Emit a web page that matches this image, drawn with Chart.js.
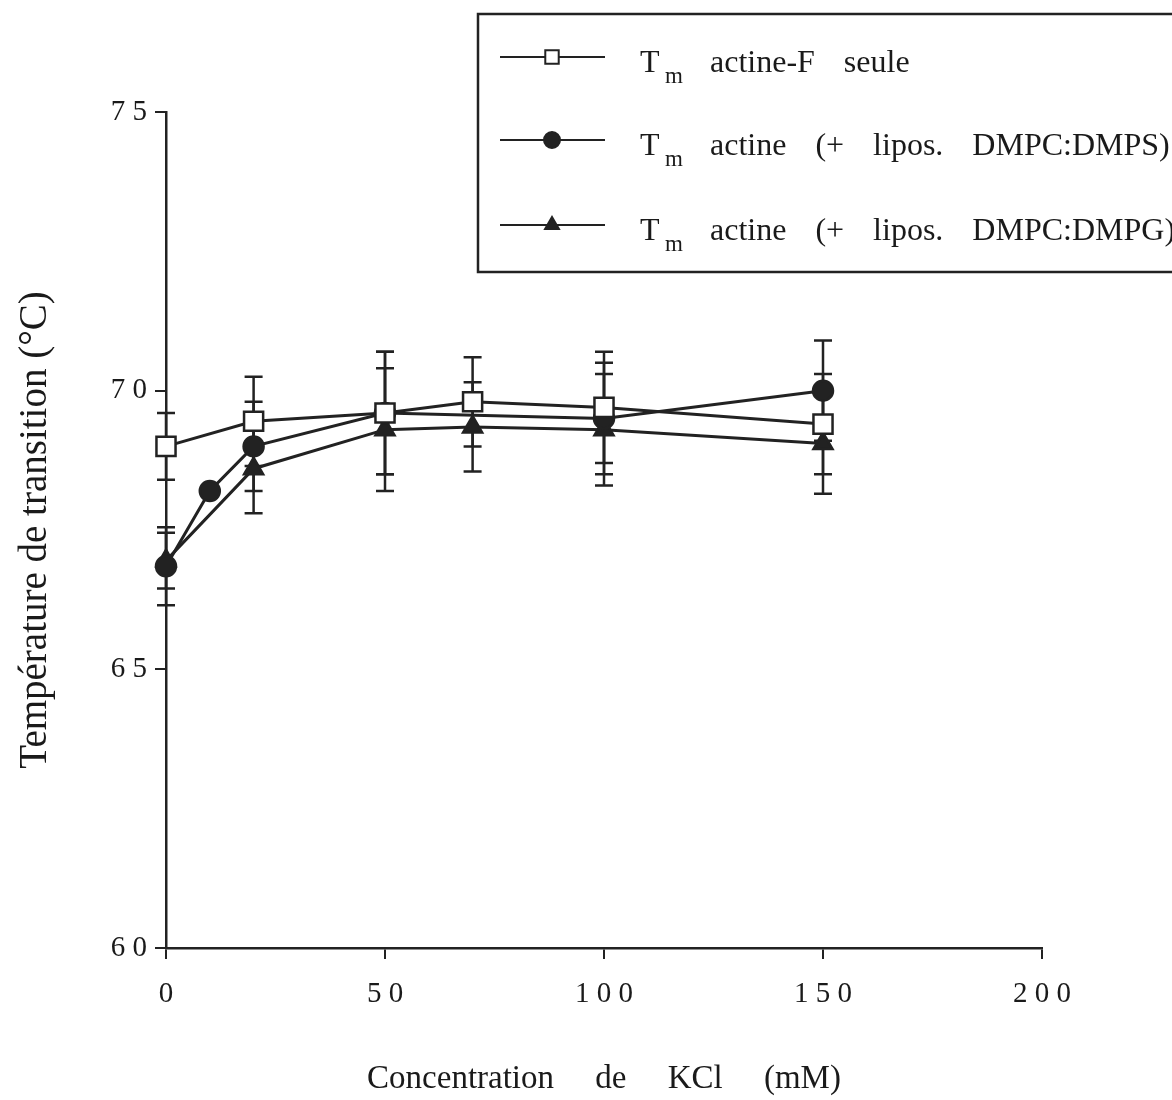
<!DOCTYPE html>
<html>
<head>
<meta charset="utf-8">
<script src="https://cdn.jsdelivr.net/npm/chart.js@4"></script>
<style>
  html, body { margin: 0; padding: 0; background: #fff; }
  #wrap { width: 1172px; height: 1100px; }
</style>
</head>
<body>
<div id="wrap"><canvas id="tm-chart" width="1172" height="1100"></canvas></div>
<script>
// KCl concentration (mM) and transition temperature Tm (°C) with SD
const kclSeule = [0, 20, 50, 70, 100, 150];
const tmSeule = [69.0, 69.45, 69.6, 69.8, 69.7, 69.4];
const sdSeule = [0.6, 0.8, 1.1, 0.8, 1.0, 0.9];

const kclDmps = [0, 10, 20, 50, 100, 150];
const tmDmps = [66.85, 68.2, 69.0, 69.6, 69.5, 70.0];
const sdDmps = [0.7, 0, 0.8, 1.1, 1.0, 0.9];

const kclDmpg = [0, 20, 50, 70, 100, 150];
const tmDmpg = [66.95, 68.6, 69.3, 69.35, 69.3, 69.05];
const sdDmpg = [0.5, 0.8, 1.1, 0.8, 1.0, 0.9];

const xTicks = [0, 50, 100, 150, 200];
const yTicks = [60, 65, 70, 75];

const seriesNames = [
  "actine-F seule",
  "actine (+ lipos. DMPC:DMPS)",
  "actine (+ lipos. DMPC:DMPG)",
];

const ink = "#222";
const serif = "'Liberation Serif', 'Times New Roman', serif";

function toPoints(xs, ys) {
  return xs.map((x, i) => ({ x: x, y: ys[i] }));
}

// digits drawn apart, like on the old plotter output
function spaced(value) {
  return String(value).split("").join(" ");
}

const errorBars = {
  id: "errorBars",
  beforeDatasetsDraw(chart) {
    const { ctx, scales } = chart;
    ctx.save();
    ctx.strokeStyle = ink;
    ctx.lineWidth = 2.5;
    chart.data.datasets.forEach((ds) => {
      ds.data.forEach((pt, i) => {
        const sd = ds.errors[i];
        if (!sd) return;
        const x = scales.x.getPixelForValue(pt.x);
        const top = scales.y.getPixelForValue(pt.y + sd);
        const bottom = scales.y.getPixelForValue(pt.y - sd);
        ctx.beginPath();
        ctx.moveTo(x, top);
        ctx.lineTo(x, bottom);
        ctx.moveTo(x - 9, top);
        ctx.lineTo(x + 9, top);
        ctx.moveTo(x - 9, bottom);
        ctx.lineTo(x + 9, bottom);
        ctx.stroke();
      });
    });
    ctx.restore();
  },
};

const boxedLegend = {
  id: "boxedLegend",
  afterDraw(chart) {
    const { ctx } = chart;
    const rows = [57, 140, 225];
    ctx.save();
    ctx.strokeStyle = ink;
    ctx.lineWidth = 2.5;
    ctx.strokeRect(478, 14, 740, 258);

    chart.data.datasets.forEach((ds, i) => {
      const y = rows[i];
      ctx.strokeStyle = ink;
      ctx.lineWidth = 2;
      ctx.beginPath();
      ctx.moveTo(500, y);
      ctx.lineTo(605, y);
      ctx.stroke();

      ctx.fillStyle = ds.pointBackgroundColor;
      ctx.lineWidth = 2;
      Chart.helpers.drawPoint(ctx, {
        pointStyle: ds.pointStyle,
        radius: ds.pointStyle === "rect" ? 9.5 : 8,
        borderWidth: 2,
        rotation: 0,
      }, 552, y);

      ctx.fillStyle = "#1a1a1a";
      ctx.textBaseline = "alphabetic";
      ctx.textAlign = "left";
      ctx.font = "32px " + serif;
      ctx.fillText("T", 640, y + 15);
      ctx.font = "23px " + serif;
      ctx.fillText("m", 665, y + 26);
      ctx.font = "32px " + serif;
      let x = 710;
      seriesNames[i].split(" ").forEach((word) => {
        ctx.fillText(word, x, y + 15);
        x += ctx.measureText(word).width + 29;
      });
    });
    ctx.restore();
  },
};

const lineStyle = {
  borderColor: ink,
  borderWidth: 3,
  pointBorderColor: ink,
  pointBorderWidth: 2.5,
  tension: 0,
  fill: false,
  clip: false,
};

new Chart(document.getElementById("tm-chart"), {
  type: "line",
  data: {
    datasets: [
      {
        ...lineStyle,
        label: "Tm " + seriesNames[0],
        data: toPoints(kclSeule, tmSeule),
        errors: sdSeule,
        pointStyle: "rect",
        pointRadius: 13.5,
        pointBackgroundColor: "#fff",
      },
      {
        ...lineStyle,
        label: "Tm " + seriesNames[1],
        data: toPoints(kclDmps, tmDmps),
        errors: sdDmps,
        pointStyle: "circle",
        pointRadius: 10,
        pointBackgroundColor: ink,
      },
      {
        ...lineStyle,
        label: "Tm " + seriesNames[2],
        data: toPoints(kclDmpg, tmDmpg),
        errors: sdDmpg,
        pointStyle: "triangle",
        pointRadius: 11,
        pointBackgroundColor: ink,
      },
    ],
  },
  options: {
    responsive: false,
    animation: false,
    events: [],
    layout: { padding: { top: 112, right: 130, left: 0, bottom: 0 } },
    plugins: {
      legend: { display: false },
      tooltip: { enabled: false },
    },
    scales: {
      x: {
        type: "linear",
        min: 0,
        max: 200,
        afterBuildTicks: (scale) => {
          scale.ticks = xTicks.map((v) => ({ value: v }));
        },
        afterFit: (scale) => {
          scale.height = 152;
        },
        ticks: {
          color: "#1a1a1a",
          font: { family: serif, size: 29 },
          padding: 18,
          maxRotation: 0,
          callback: (v) => spaced(v),
        },
        grid: {
          drawOnChartArea: false,
          drawTicks: true,
          tickLength: 11,
          color: ink,
          lineWidth: 2,
        },
        border: { color: ink, width: 2.5 },
        title: {
          display: true,
          text: "Concentration     de     KCl     (mM)",
          color: "#1a1a1a",
          font: { family: serif, size: 33 },
          padding: { top: 0, bottom: 1 },
        },
      },
      y: {
        type: "linear",
        min: 60,
        max: 75,
        afterBuildTicks: (scale) => {
          scale.ticks = yTicks.map((v) => ({ value: v }));
        },
        afterFit: (scale) => {
          scale.width = 166;
        },
        ticks: {
          color: "#1a1a1a",
          font: { family: serif, size: 29 },
          padding: 8,
          callback: (v) => spaced(v),
        },
        grid: {
          drawOnChartArea: false,
          drawTicks: true,
          tickLength: 11,
          color: ink,
          lineWidth: 2,
        },
        border: { color: ink, width: 2.5 },
        title: {
          display: true,
          text: "Température de transition (°C)",
          color: "#1a1a1a",
          font: { family: serif, size: 39 },
          padding: { top: 12, bottom: 0 },
        },
      },
    },
  },
  plugins: [errorBars, boxedLegend],
});
</script>
</body>
</html>
